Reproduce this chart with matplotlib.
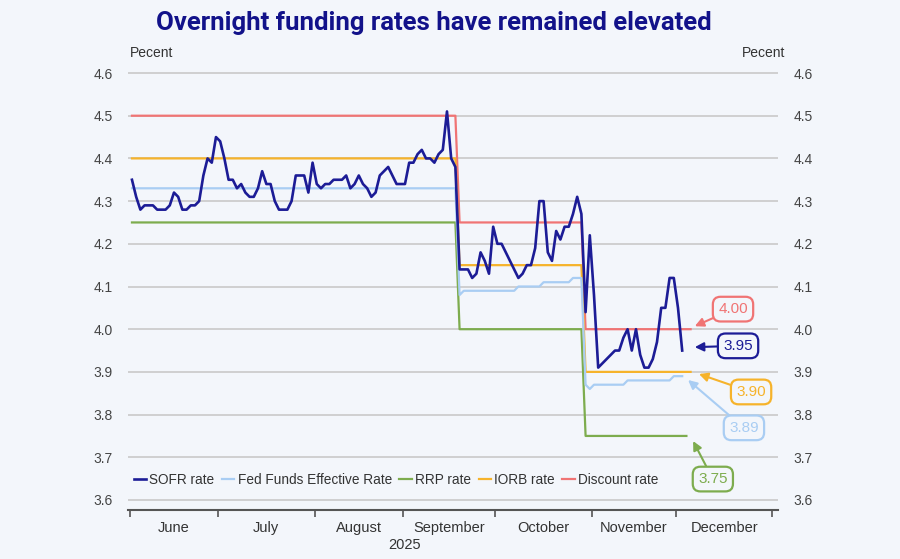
import numpy as np
import pandas as pd
import matplotlib
matplotlib.use("Agg")
import matplotlib.pyplot as plt

# daily (weekday) observations starting Mon 2 June 2025
sofr = [4.35, 4.31, 4.28, 4.29, 4.29, 4.29, 4.28, 4.28, 4.28, 4.29,
        4.32, 4.31, 4.28, 4.28, 4.29, 4.29, 4.30, 4.36, 4.40, 4.39,
        4.45, 4.44, 4.40, 4.35, 4.35, 4.33, 4.34, 4.32, 4.31, 4.31,
        4.33, 4.37, 4.34, 4.34, 4.30, 4.28, 4.28, 4.28, 4.30, 4.36,
        4.36, 4.36, 4.32, 4.39, 4.34, 4.33, 4.34, 4.34, 4.35, 4.35,
        4.35, 4.36, 4.33, 4.34, 4.36, 4.34, 4.33, 4.31, 4.32, 4.36,
        4.37, 4.38, 4.36, 4.34, 4.34, 4.34, 4.39, 4.39, 4.41, 4.42,
        4.40, 4.40, 4.39, 4.41, 4.42, 4.51, 4.40, 4.38, 4.14, 4.14,
        4.14, 4.12, 4.13, 4.18, 4.16, 4.13, 4.24, 4.20, 4.20, 4.18,
        4.16, 4.14, 4.12, 4.13, 4.15, 4.15, 4.19, 4.30, 4.30, 4.18,
        4.16, 4.23, 4.21, 4.24, 4.24, 4.27, 4.31, 4.27, 4.04, 4.22,
        4.08, 3.91, 3.92, 3.93, 3.94, 3.95, 3.95, 3.98, 4.00, 3.95,
        4.00, 3.94, 3.91, 3.91, 3.93, 3.97, 4.05, 4.05, 4.12, 4.12,
        4.05, 3.95]
effr = [4.33] * 78 + [4.08] + [4.09] * 13 + [4.10] * 6 + [4.11] * 7 + [4.12] * 3 \
       + [3.87, 3.86] + [3.87] * 8 + [3.88] * 11 + [3.89] * 3
rrp = [4.25] * 78 + [4.00] * 30 + [3.75] * 25
iorb = [4.40] * 78 + [4.15] * 30 + [3.90] * 26
discount = [4.50] * 78 + [4.25] * 30 + [4.00] * 26
months = ["June", "July", "August", "September", "October", "November", "December"]

c_sofr = "#1c1c96"
c_effr = "#a9cdf3"
c_rrp = "#7dac4e"
c_iorb = "#f6b32b"
c_disc = "#f07474"
bg = "#f3f6fb"

days = pd.bdate_range("2025-06-02", "2025-12-31")
month_start = [i for i in range(len(days)) if i == 0 or days[i].month != days[i - 1].month]
bounds = [m - 0.5 for m in month_start] + [len(days) - 0.5]
mids = [(bounds[k] + bounds[k + 1]) / 2 for k in range(len(months))]

plt.rcParams["font.family"] = ["Liberation Sans", "DejaVu Sans"]
fig = plt.figure(figsize=(9, 5.59), dpi=100, facecolor=bg)
ax = fig.add_axes([0.1422, 0.0877, 0.7222, 0.7855], facecolor=bg)

ax.plot(np.arange(len(discount)), discount, color=c_disc, lw=1.6, label="Discount rate", zorder=3)
ax.plot(np.arange(len(iorb)), iorb, color=c_iorb, lw=1.6, label="IORB rate", zorder=3)
ax.plot(np.arange(len(rrp)), rrp, color=c_rrp, lw=1.6, label="RRP rate", zorder=3)
ax.plot(np.arange(len(effr)), effr, color=c_effr, lw=1.6, label="Fed Funds Effective Rate", zorder=3)
ax.plot(np.arange(len(sofr)), sofr, color=c_sofr, lw=1.9, label="SOFR rate", zorder=4)

ax.set_xlim(-0.95, 153.8)
ax.set_ylim(3.5766, 4.605)
ax.set_yticks(np.arange(3.6, 4.61, 0.1))
ax.set_yticklabels([f"{v:.1f}" for v in np.arange(3.6, 4.61, 0.1)])
ax.grid(axis="y", color="#c9c9c9", lw=1.2, zorder=1)
ax.tick_params(axis="y", length=0, labelright=True, pad=11, labelsize=10, labelcolor="#444444")

ax.set_xticks(bounds)
ax.set_xticklabels([])
ax.set_xticks(mids, minor=True)
ax.set_xticklabels(months, minor=True)
ax.tick_params(axis="x", which="major", length=5, width=1.2, color="#555555", direction="out")
ax.tick_params(axis="x", which="minor", length=0, pad=8, labelsize=10.5, labelcolor="#333333")
for s in ["top", "left", "right"]:
    ax.spines[s].set_visible(False)
ax.spines["bottom"].set_color("#555555")
ax.spines["bottom"].set_linewidth(1.5)

h, l = ax.get_legend_handles_labels()
order = [4, 3, 2, 1, 0]
ax.legend([h[k] for k in order], [l[k] for k in order], loc="center left",
          bbox_to_anchor=(-0.01, 0.068), ncol=5, frameon=False, fontsize=9.8,
          handlelength=0.9, handletextpad=0.25, columnspacing=0.55, labelcolor="#333333")

# end-of-series labels
notes = [("4.00", c_disc, (134.0, 4.007), (143.1, 4.047)),
         ("3.95", c_sofr, (134.0, 3.958), (144.3, 3.961)),
         ("3.90", c_iorb, (135.0, 3.895), (147.4, 3.853)),
         ("3.89", c_effr, (132.4, 3.881), (145.7, 3.769)),
         ("3.75", c_rrp, (133.6, 3.738), (138.3, 3.649))]
for txt, col, tip, box in notes:
    ax.annotate(txt, xy=tip, xytext=box, ha="center", va="center", fontsize=11, color=col,
                bbox=dict(boxstyle="round,pad=0.35,rounding_size=0.5", fc=bg, ec=col, lw=1.6),
                arrowprops=dict(arrowstyle="-|>", color=col, lw=1.5, mutation_scale=13,
                                shrinkA=0, shrinkB=0),
                annotation_clip=False, zorder=5)

fig.text(0.482, 0.958, "Overnight funding rates have remained elevated", ha="center", va="center",
         fontsize=18.5, fontweight="bold", color="#12128a", family="Roboto")
fig.text(0.1445, 0.906, "Pecent", ha="left", va="center", fontsize=10, color="#333333")
fig.text(0.872, 0.906, "Pecent", ha="right", va="center", fontsize=10, color="#333333")
fig.text(0.450, 0.025, "2025", ha="center", va="center", fontsize=10.5, color="#333333")

fig.savefig("out.png", dpi=100, facecolor=bg)
